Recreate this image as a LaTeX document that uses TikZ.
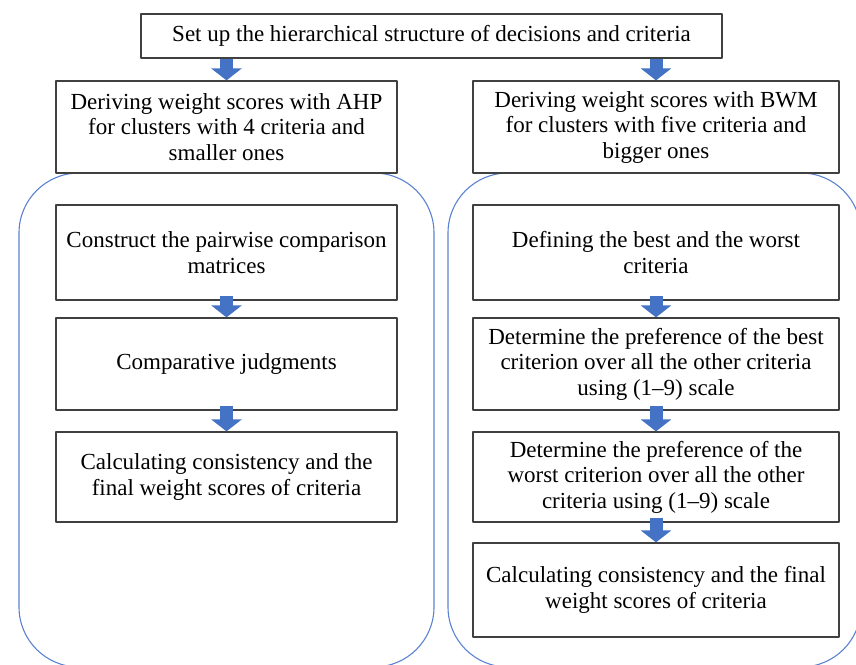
\documentclass[tikz,border=0pt]{standalone}
\usepackage{fontspec}
\setmainfont{Liberation Serif}
\usetikzlibrary{arrows.meta,positioning}
\definecolor{panelblue}{HTML}{5B82D0}
\definecolor{arrowblue}{HTML}{4472C4}

\begin{document}
\begin{tikzpicture}[x=1pt,y=-1pt,line join=round,
  stepbox/.style={draw=black!75,line width=1.2pt,fill=white,align=center,
    inner sep=0pt,font=\fontsize{23}{25.5}\selectfont},
  panel/.style={draw=panelblue,line width=1.1pt,rounded corners=60pt},
  flowarrow/.style={line width=13pt,draw=arrowblue,-{Triangle[width=30pt,length=12pt]}}]
\clip (0,0) rectangle (856,664);
% two panels (AHP left, BWM right)
\draw[panel] (19,173) rectangle (434,667);
\draw[panel] (448,173) rectangle (861,667);
% top box
\node[stepbox,minimum width=581,minimum height=44] (top) at (431.5,36)
  {Set up the hierarchical structure of decisions and criteria};
% left column
\node[stepbox,minimum width=341,minimum height=92] (ahp) at (226.5,127)
  {Deriving weight scores with AHP\\for clusters with 4 criteria and\\smaller ones};
\node[stepbox,minimum width=341,minimum height=95] (ahpA) at (226.5,252.5)
  {Construct the pairwise comparison\\matrices};
\node[stepbox,minimum width=341,minimum height=92] (ahpB) at (226.5,364)
  {Comparative judgments};
\node[stepbox,minimum width=341,minimum height=90] (ahpC) at (226.5,477)
  {Calculating consistency and the\\final weight scores of criteria};
% right column
\node[stepbox,minimum width=366,minimum height=92] (bwm) at (656,127)
  {Deriving weight scores with BWM\\for clusters with five criteria and\\bigger ones};
\node[stepbox,minimum width=366,minimum height=95] (bwmA) at (656,252.5)
  {Defining the best and the worst\\criteria};
\node[stepbox,minimum width=366,minimum height=92] (bwmB) at (656,364)
  {Determine the preference of the best\\criterion over all the other criteria\\using (1--9) scale};
\node[stepbox,minimum width=366,minimum height=90] (bwmC) at (656,477)
  {Determine the preference of the\\worst criterion over all the other\\criteria using (1--9) scale};
\node[stepbox,minimum width=366,minimum height=94] (bwmD) at (656,590)
  {Calculating consistency and the final\\weight scores of criteria};
% arrows
\draw[flowarrow] (ahp.north |- top.south) -- (ahp.north);
\draw[flowarrow] (bwm.north |- top.south) -- (bwm.north);
\draw[flowarrow] ([yshift=5pt]ahpA.south) -- (ahpB.north);
\draw[flowarrow] ([yshift=5pt]ahpB.south) -- (ahpC.north);
\draw[flowarrow] ([yshift=5pt]bwmA.south) -- (bwmB.north);
\draw[flowarrow] ([yshift=5pt]bwmB.south) -- (bwmC.north);
\draw[flowarrow] ([yshift=5pt]bwmC.south) -- (bwmD.north);
\end{tikzpicture}
\end{document}
